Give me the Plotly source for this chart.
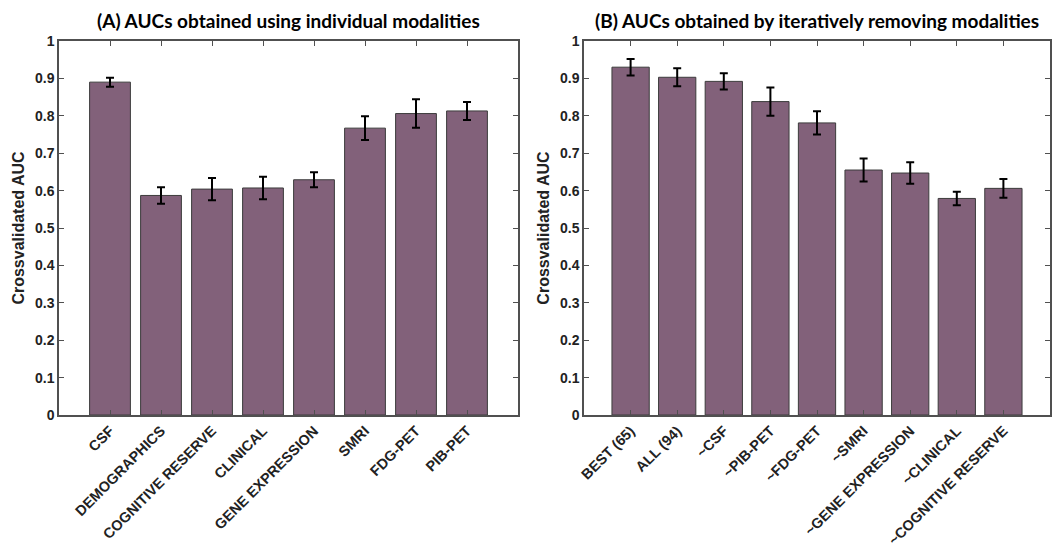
import plotly.graph_objects as go

# Panel A data
cats_a = ["CSF", "DEMOGRAPHICS", "COGNITIVE RESERVE", "CLINICAL", "GENE EXPRESSION",
          "SMRI", "FDG-PET", "PIB-PET"]
auc_a = [0.890, 0.587, 0.604, 0.607, 0.629, 0.767, 0.806, 0.813]
err_a = [0.012, 0.022, 0.030, 0.030, 0.020, 0.032, 0.038, 0.024]

# Panel B data
cats_b = ["BEST (65)", "ALL (94)", "~CSF", "~PIB-PET", "~FDG-PET", "~SMRI",
          "~GENE EXPRESSION", "~CLINICAL", "~COGNITIVE RESERVE"]
auc_b = [0.930, 0.903, 0.892, 0.838, 0.781, 0.655, 0.647, 0.579, 0.606]
err_b = [0.022, 0.024, 0.022, 0.038, 0.031, 0.031, 0.029, 0.018, 0.025]

titles = ["(A) AUCs obtained using individual modalities",
          "(B) AUCs obtained by iteratively removing modalities"]

BAR = "#82617a"
EDGE = "#3c3c3c"
AX = "#505050"
FONT = "Liberation Sans"

fig = go.Figure()

for i, (cats, vals, errs) in enumerate([(cats_a, auc_a, err_a), (cats_b, auc_b, err_b)]):
    xa = "x" if i == 0 else "x2"
    ya = "y" if i == 0 else "y2"
    fig.add_trace(go.Bar(
        x=cats, y=vals, xaxis=xa, yaxis=ya, width=0.8,
        marker=dict(color=BAR, line=dict(color=EDGE, width=1)),
        error_y=dict(type="data", array=errs, visible=True, color="black",
                     thickness=2, width=4),
        showlegend=False,
    ))

x_common = dict(
    showline=True, linecolor=AX, linewidth=1.5, mirror="ticks",
    ticks="inside", ticklen=5, tickcolor=AX, tickwidth=1,
    tickangle=-45, tickfont=dict(family=FONT, size=14.5, color="#222", weight="bold"),
    showgrid=False, zeroline=False, automargin=False,
)
y_common = dict(
    range=[0, 1], dtick=0.1, tick0=0,
    showline=True, linecolor=AX, linewidth=1.5, mirror="ticks",
    ticks="inside", ticklen=5, tickcolor=AX, tickwidth=1,
    tickfont=dict(family=FONT, size=14, color="#222", weight="bold"),
    showgrid=False, zeroline=False, automargin=False,
    title=dict(text="Crossvalidated AUC", standoff=6,
               font=dict(family=FONT, size=16, color="#222", weight="bold")),
)

# page offset of the plot div (browser body margin)
OFF = 8
W, H = 1061 - OFF, 547 - OFF


def px_x(v):
    return (v - OFF) / W


def px_y(v):
    return (H - (v - OFF)) / H


fig.update_layout(
    template="none",
    width=W, height=H,
    font=dict(family=FONT),
    margin=dict(l=0, r=0, t=0, b=0, autoexpand=False),
    plot_bgcolor="white", paper_bgcolor="white",
    bargap=0.2,
    xaxis=dict(domain=[px_x(59), px_x(518)], anchor="y", range=[-1, len(cats_a)], **x_common),
    yaxis=dict(domain=[px_y(415), px_y(41)], anchor="x", **y_common),
    xaxis2=dict(domain=[px_x(584), px_x(1050)], anchor="y2", range=[-1, len(cats_b)], **x_common),
    yaxis2=dict(domain=[px_y(415), px_y(41)], anchor="x2", **y_common),
)

centers = [px_x((59 + 518) / 2), px_x((584 + 1050) / 2)]
for t, cx in zip(titles, centers):
    fig.add_annotation(
        text=t, x=cx, y=px_y(20.5), xref="paper", yref="paper",
        xanchor="center", yanchor="middle", showarrow=False, borderpad=0,
        font=dict(family="Lato, Open Sans, sans-serif", size=19, color="black", weight="bold"),
    )

fig.write_html("out.html")
